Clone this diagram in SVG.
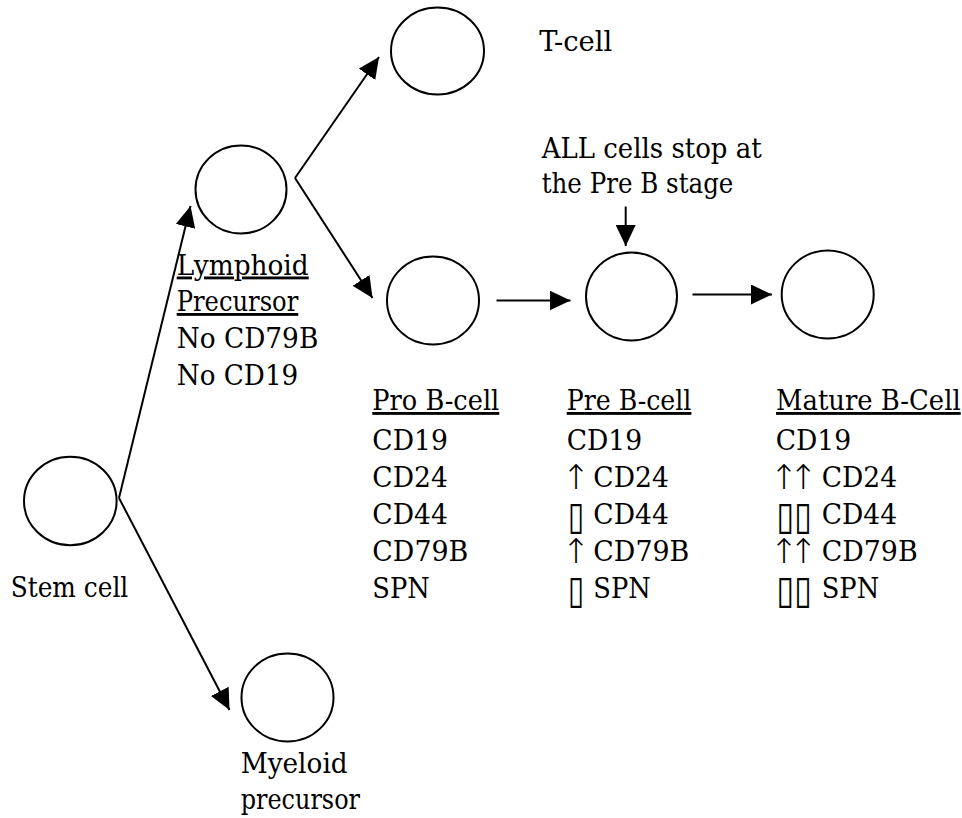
<svg xmlns="http://www.w3.org/2000/svg" width="962" height="818" viewBox="0 0 962 818">
<style>
.c{fill:none;stroke:#000;stroke-width:2}
.l{fill:none;stroke:#000;stroke-width:2;marker-end:url(#ah)}
.t{font-family:'DejaVu Serif',serif;font-size:28.5px;fill:#000}
.u{text-decoration:underline}
.b{font-family:'DejaVu Sans',sans-serif;font-size:39px}
.a{font-family:'DejaVu Sans',sans-serif;font-weight:200;font-size:34px;text-anchor:middle}
</style>
<defs>
<marker id="ah" viewBox="0 0 21 20" refX="21" refY="10" markerWidth="21" markerHeight="20" markerUnits="userSpaceOnUse" orient="auto">
<path d="M0,0 L21,10 L0,20 z" fill="#000"/>
</marker>
</defs>
<rect width="962" height="818" fill="#fff"/>
<g id="connectors">
<path class="l" d="M119,498 L190.5,206"/>
<path class="l" d="M119,498 L229.5,710"/>
<path class="l" d="M295,178 L379,57"/>
<path class="l" d="M295,178 L372.5,298"/>
<path class="l" d="M496.5,300.5 L570.5,300.5"/>
<path class="l" d="M692.5,294.5 L772,294.5"/>
<path class="l" d="M625.7,206.5 L625.7,246"/>
</g>
<g class="t">
<g id="stem">
<ellipse class="c" cx="70.3" cy="501" rx="46.3" ry="44.3"/>
<text x="10.7" y="597" textLength="117.6" lengthAdjust="spacingAndGlyphs">Stem cell</text>
</g>
<g id="lymphoid">
<ellipse class="c" cx="241" cy="189.5" rx="45.5" ry="44"/>
<text x="176.7" y="274.5" class="u" textLength="132" lengthAdjust="spacingAndGlyphs">Lymphoid</text>
<text x="176.7" y="311" class="u" textLength="121.6" lengthAdjust="spacingAndGlyphs">Precursor</text>
<text x="176.7" y="348" textLength="141.6" lengthAdjust="spacingAndGlyphs">No CD79B</text>
<text x="176.7" y="384.5" textLength="121.6" lengthAdjust="spacingAndGlyphs">No CD19</text>
</g>
<g id="tcell">
<ellipse class="c" cx="437.5" cy="51" rx="46.5" ry="43.5"/>
<text x="539.3" y="50.7" textLength="73" lengthAdjust="spacingAndGlyphs">T-cell</text>
</g>
<g id="myeloid">
<ellipse class="c" cx="287.5" cy="697.5" rx="46" ry="44"/>
<text x="240.7" y="772.5" textLength="107" lengthAdjust="spacingAndGlyphs">Myeloid</text>
<text x="240.7" y="809" textLength="119.3" lengthAdjust="spacingAndGlyphs">precursor</text>
</g>
<g id="probcell">
<ellipse class="c" cx="433" cy="300.5" rx="46" ry="44"/>
<text x="372.3" y="410" class="u" textLength="127" lengthAdjust="spacingAndGlyphs">Pro B-cell</text>
<text x="372.3" y="450" textLength="75.5" lengthAdjust="spacingAndGlyphs">CD19</text>
<text x="372.3" y="487.3" textLength="75.5" lengthAdjust="spacingAndGlyphs">CD24</text>
<text x="372.3" y="524" textLength="75.5" lengthAdjust="spacingAndGlyphs">CD44</text>
<text x="372.3" y="561" textLength="96" lengthAdjust="spacingAndGlyphs">CD79B</text>
<text x="372.3" y="598" textLength="57.5" lengthAdjust="spacingAndGlyphs">SPN</text>
</g>
<g id="prebcell">
<ellipse class="c" cx="631.5" cy="296.5" rx="45.5" ry="44"/>
<text x="541.7" y="158.3" textLength="220" lengthAdjust="spacingAndGlyphs">ALL cells stop at</text>
<text x="541.7" y="193.3" textLength="191.7" lengthAdjust="spacingAndGlyphs">the Pre B stage</text>
<text x="566.7" y="410" class="u" textLength="124.7" lengthAdjust="spacingAndGlyphs">Pre B-cell</text>
<text x="566.7" y="450" textLength="75.5" lengthAdjust="spacingAndGlyphs">CD19</text>
<text x="576" y="489" class="a">↑</text><text x="593.3" y="487.3" textLength="75.5" lengthAdjust="spacingAndGlyphs">CD24</text>
<text x="567.7" y="528.5" class="b" textLength="16.3" lengthAdjust="spacingAndGlyphs">▯</text><text x="593.3" y="524" textLength="75.5" lengthAdjust="spacingAndGlyphs">CD44</text>
<text x="576" y="563" class="a">↑</text><text x="593.3" y="561" textLength="96" lengthAdjust="spacingAndGlyphs">CD79B</text>
<text x="567.7" y="602.5" class="b" textLength="16.3" lengthAdjust="spacingAndGlyphs">▯</text><text x="593.3" y="598" textLength="57.5" lengthAdjust="spacingAndGlyphs">SPN</text>
</g>
<g id="maturebcell">
<ellipse class="c" cx="827.7" cy="294.5" rx="46" ry="44"/>
<text x="776" y="410" class="u" textLength="184.7" lengthAdjust="spacingAndGlyphs">Mature B-Cell</text>
<text x="775.7" y="450" textLength="75.5" lengthAdjust="spacingAndGlyphs">CD19</text>
<text x="784 803.3" y="489" class="a">↑↑</text><text x="821.7" y="487.3" textLength="75.5" lengthAdjust="spacingAndGlyphs">CD24</text>
<text x="776.3" y="528.5" class="b" textLength="35.4" lengthAdjust="spacingAndGlyphs">▯▯</text><text x="821.7" y="524" textLength="75.5" lengthAdjust="spacingAndGlyphs">CD44</text>
<text x="784 803.3" y="563" class="a">↑↑</text><text x="821.7" y="561" textLength="96" lengthAdjust="spacingAndGlyphs">CD79B</text>
<text x="776.3" y="602.5" class="b" textLength="35.4" lengthAdjust="spacingAndGlyphs">▯▯</text><text x="821.7" y="598" textLength="57.5" lengthAdjust="spacingAndGlyphs">SPN</text>
</g>
</g>
</svg>
